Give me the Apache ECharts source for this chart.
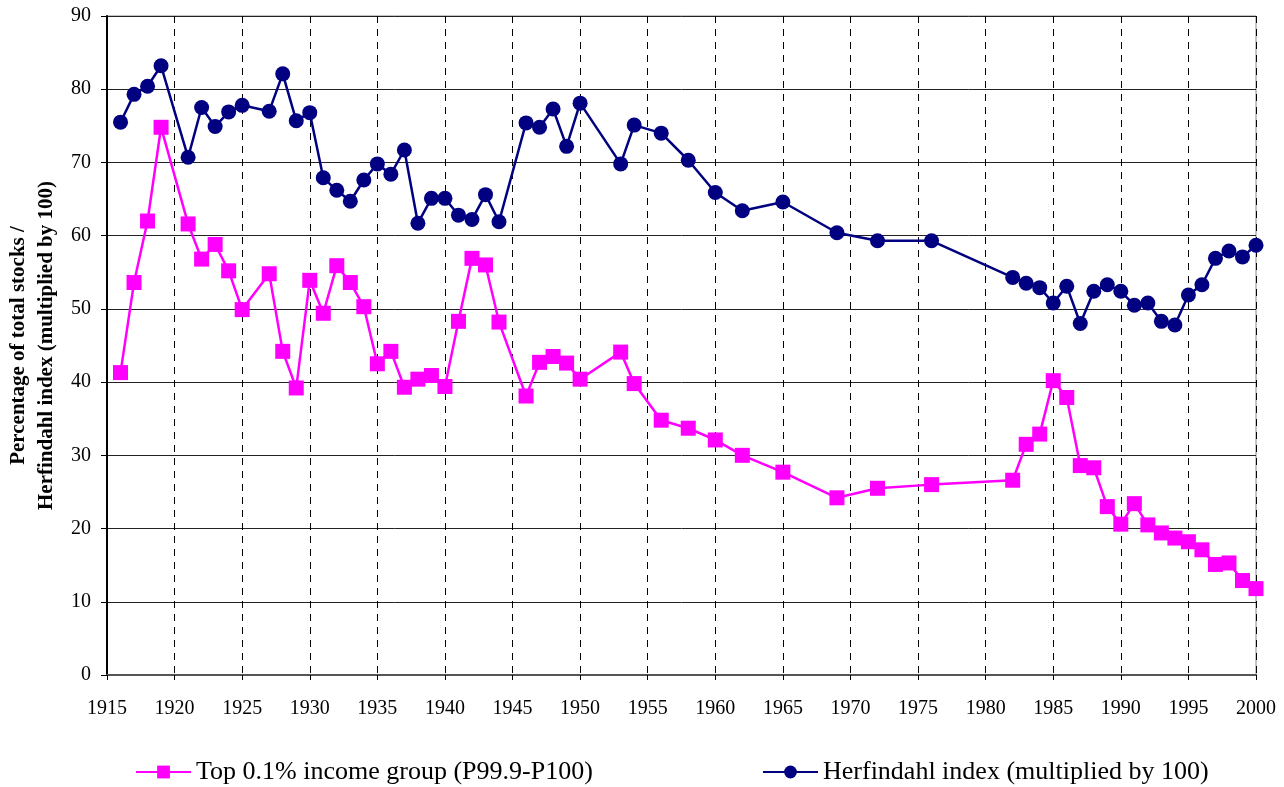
<!DOCTYPE html>
<html><head><meta charset="utf-8">
<script src="https://cdn.jsdelivr.net/npm/echarts@6/dist/echarts.min.js"></script>
<style>html,body{margin:0;padding:0;background:#fff}#c{width:1284px;height:787px}</style>
</head><body><div id="c"></div>
<script>
const topYears = [1916,1917,1918,1919,1921,1922,1923,1924,1925,1927,1928,1929,1930,1931,1932,1933,1934,1935,1936,1937,1938,1939,1940,1941,1942,1943,1944,1946,1947,1948,1949,1950,1953,1954,1956,1958,1960,1962,1965,1969,1972,1976,1982,1983,1984,1985,1986,1987,1988,1989,1990,1991,1992,1993,1994,1995,1996,1997,1998,1999,2000];
const topValues = [41.3,53.6,62.0,74.8,61.6,56.8,58.8,55.2,49.9,54.8,44.2,39.2,53.9,49.4,55.9,53.6,50.3,42.5,44.2,39.3,40.4,40.9,39.4,48.3,56.9,56.0,48.2,38.1,42.7,43.5,42.6,40.4,44.1,39.8,34.8,33.7,32.1,30.0,27.7,24.2,25.5,26.0,26.6,31.5,32.9,40.2,37.9,28.6,28.3,23.0,20.6,23.4,20.5,19.4,18.7,18.2,17.1,15.1,15.3,12.9,11.8];
const herfYears = [1916,1917,1918,1919,1921,1922,1923,1924,1925,1927,1928,1929,1930,1931,1932,1933,1934,1935,1936,1937,1938,1939,1940,1941,1942,1943,1944,1946,1947,1948,1949,1950,1953,1954,1956,1958,1960,1962,1965,1969,1972,1976,1982,1983,1984,1985,1986,1987,1988,1989,1990,1991,1992,1993,1994,1995,1996,1997,1998,1999,2000];
const herfValues = [75.5,79.3,80.4,83.2,70.7,77.5,74.9,76.9,77.8,77.0,82.1,75.7,76.8,67.9,66.2,64.7,67.6,69.8,68.4,71.7,61.7,65.1,65.1,62.8,62.2,65.6,61.9,75.4,74.8,77.3,72.2,78.1,69.8,75.1,74.0,70.3,65.9,63.4,64.6,60.4,59.3,59.3,54.3,53.5,52.9,50.8,53.1,48.0,52.4,53.3,52.4,50.5,50.8,48.3,47.8,51.9,53.3,56.9,57.9,57.1,58.7];
const seriesNames = ['Top 0.1% income group (P99.9-P100)','Herfindahl index (multiplied by 100)'];
const yAxisTitle = 'Percentage of total stocks /\nHerfindahl index (multiplied by 100)';

const font = '"Liberation Serif","Times New Roman",serif';
const chart = echarts.init(document.getElementById('c'), null, {renderer:'canvas'});
const pair = (xs, ys) => xs.map((x,i)=>[x, ys[i]]);
chart.setOption({
  animation:false,
  backgroundColor:'#fff',
  textStyle:{fontFamily:font},
  grid:{left:107,right:28,top:16,bottom:112,show:true,borderColor:'#888',borderWidth:1,
        containLabel:false,outerBoundsMode:'none'},
  legend:[
    {data:[seriesNames[0]],left:130,top:754,itemWidth:55,itemHeight:16,itemGap:10,
     textStyle:{fontFamily:font,fontSize:26,color:'#000'}},
    {data:[seriesNames[1]],left:757,top:754,itemWidth:55,itemHeight:16,itemGap:10,
     textStyle:{fontFamily:font,fontSize:26,color:'#000'}}
  ],
  xAxis:{type:'value',min:1915,max:2000,interval:5,
    axisLine:{show:true,onZero:false,lineStyle:{color:'#555',width:2}},
    axisTick:{show:true,length:5,lineStyle:{color:'#000'}},
    axisLabel:{fontFamily:font,fontSize:20,color:'#000',margin:24,formatter:v=>String(v)},
    splitLine:{show:true,lineStyle:{color:'#000',type:[7,6],width:1}}
  },
  yAxis:{type:'value',min:0,max:90,interval:10,
    name:yAxisTitle,nameLocation:'middle',nameRotate:90,nameGap:44,
    nameTextStyle:{fontFamily:font,fontSize:21,fontWeight:'bold',color:'#000',lineHeight:28},
    axisLine:{show:true,lineStyle:{color:'#000',width:2}},
    axisTick:{show:true,length:6,lineStyle:{color:'#000'}},
    axisLabel:{fontFamily:font,fontSize:20,color:'#000',margin:16},
    splitLine:{show:true,lineStyle:{color:'#222',width:1}}
  },
  series:[
    {name:seriesNames[0],type:'line',data:pair(topYears,topValues),
     symbol:'rect',symbolSize:15,
     itemStyle:{color:'#ff00ff'},lineStyle:{color:'#ff00ff',width:2.5}},
    {name:seriesNames[1],type:'line',data:pair(herfYears,herfValues),
     symbol:'circle',symbolSize:15,
     itemStyle:{color:'#000080'},lineStyle:{color:'#000080',width:2.5}}
  ]
});
</script></body></html>
